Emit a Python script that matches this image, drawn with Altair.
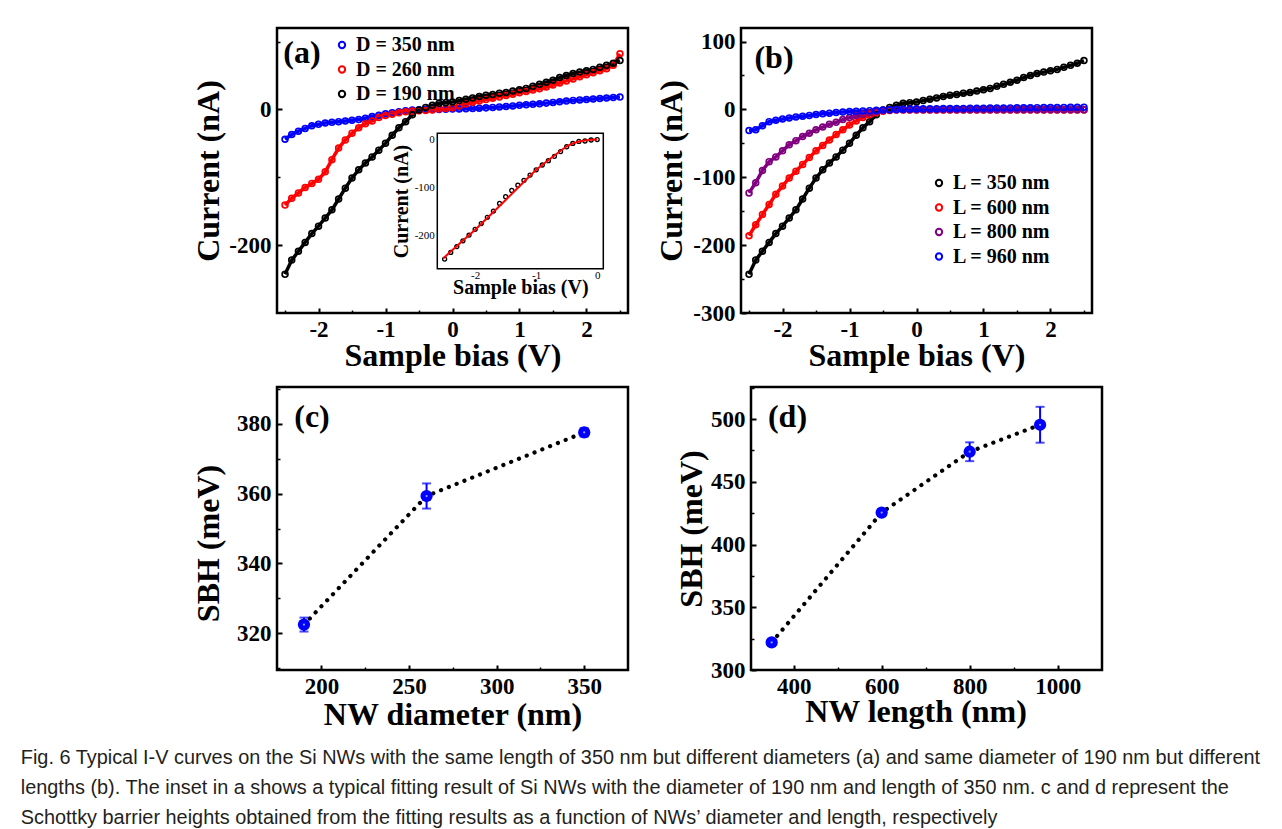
import altair as alt
import pandas as pd

FONT = "Liberation Serif"
CAP_FONT = "Liberation Sans"

# ---------------- data: panels (a) and (b) ----------------
BIAS = [-2.5, -2.4, -2.3, -2.2, -2.1, -2.0, -1.9, -1.8, -1.7, -1.6, -1.5, -1.4, -1.3,
        -1.2, -1.1, -1.0, -0.9, -0.8, -0.7, -0.6, -0.5, -0.4, -0.3, -0.2, -0.1, 0.0,
        0.1, 0.2, 0.3, 0.4, 0.5, 0.6, 0.7, 0.8, 0.9, 1.0, 1.1, 1.2, 1.3, 1.4, 1.5,
        1.6, 1.7, 1.8, 1.9, 2.0, 2.1, 2.2, 2.3, 2.4, 2.5]

I_D350 = [-44, -37, -32, -28, -24, -22, -20, -19, -18, -17, -16, -15, -13, -10.5, -8.5,
          -6.5, -5, -3.5, -2, -1, -0.5, 0, 0, 0, 0.3, 0.5, 0.7, 1, 1.3, 1.8, 2.3, 3, 3.7,
          4.4, 5.2, 6, 6.8, 7.5, 8.3, 9.3, 10.3, 11.3, 12.3, 13.3, 14, 14.7, 15.4, 16.1,
          16.8, 17.5, 18.2]
I_D260 = [-141, -131, -123, -115, -109, -103, -92, -74, -57, -45, -35, -27, -21, -17, -12,
          -9, -7, -5, -3.5, -2.5, -2, -1.5, -1, 0.5, 1.5, 2.5, 5, 8, 10.5, 12.5, 14.5, 16.5,
          18.5, 20.5, 22.5, 24.5, 26.5, 28.5, 30.5, 33, 36, 39, 42, 45, 48, 51, 54, 57, 60,
          65, 82]
I_D190 = [-243, -222, -209, -196, -183, -172, -160, -148, -132, -116, -101, -89, -79, -70,
          -60, -50, -38, -27, -18, -8, -1, 3, 6, 9, 10, 11, 13, 15, 17, 19, 21, 22, 24, 25,
          27, 29, 31, 34, 37, 40, 43, 47, 50, 53, 55, 57, 59, 62, 65, 68, 72]

I_L350 = I_D190  # same nanowire: D = 190 nm, L = 350 nm
I_L600 = [-186, -170, -155, -140, -125, -113, -101, -91, -81, -71, -61, -53, -45, -37, -30,
          -23, -17, -12, -8, -5, -2.5, -1.5, -1, -1, -1, -1, -1, -1, -1, -1, -1, -1, -1, -1,
          -1, -1, -1, -1, -1, -1, -1, -1, -1, -1, -1, -1, -1, -1, -1, -1, -1]
I_L800 = [-123, -108, -90, -77, -70, -61, -52, -46, -40, -35, -30, -26, -22, -19, -15, -12,
          -9, -7, -5, -3, -1.5, -1, -0.5, -0.5, -0.5, -0.5, -0.5, -0.5, -0.5, -0.5, -0.5,
          -0.5, -0.5, -0.5, -0.5, -0.5, -0.5, -0.5, -0.5, -0.5, -0.5, -0.5, -0.5, -0.5,
          -0.5, -0.5, -0.5, -0.5, -0.5, -0.5, -0.5]
I_L960 = [-31, -30, -24, -18, -16, -14, -12.5, -11, -10, -8.8, -7.5, -6.5, -5.5, -4.5, -3.8,
          -3.2, -2.6, -2.2, -1.8, -1.4, -1, -0.6, -0.2, 0.2, 0.5, 0.8, 0.9, 1.0, 1.1, 1.2,
          1.3, 1.4, 1.5, 1.6, 1.7, 1.8, 1.9, 2.0, 2.1, 2.2, 2.3, 2.4, 2.5, 2.6, 2.7, 2.8,
          2.9, 3.0, 3.1, 3.2, 3.3]

D_LABELS = ["D = 350 nm", "D = 260 nm", "D = 190 nm"]
D_COLORS = ["#0000ff", "#ff0000", "#000000"]
L_LABELS = ["L = 350 nm", "L = 600 nm", "L = 800 nm", "L = 960 nm"]
L_COLORS = ["#000000", "#ff0000", "#800080", "#0000ff"]

# inset of (a): data and fit
INSET_BIAS = [-2.5, -2.4, -2.3, -2.2, -2.1, -2.0, -1.9, -1.8, -1.7, -1.6, -1.5, -1.4, -1.3,
              -1.2, -1.1, -1.0, -0.9, -0.8, -0.7, -0.6, -0.5, -0.4, -0.3, -0.2, -0.1, 0.0]
INSET_I = [-250, -236, -224, -212, -200, -188, -176, -163, -150, -134, -120, -107, -96, -86,
           -75, -64, -54, -45, -36, -26, -16, -9, -5, -4, -2, -1]
FIT_BIAS = [-2.52, -2.25, -2.0, -1.75, -1.5, -1.25, -1.0, -0.75, -0.5, -0.4, -0.3, -0.2, -0.1, 0.0]
FIT_I = [-248, -217, -189, -158, -127, -95, -64, -39, -15, -9, -5, -3, -1.5, -1]
INSET_XDOM = [-2.62, 0.1]
INSET_YDOM = [-270, 12]

# ---------------- data: panels (c) and (d) ----------------
DIAM = [190, 260, 350]
SBH_DIAM = [322.5, 359.3, 377.5]
ERR_DIAM = [2.0, 3.6, 1.2]
LENGTH = [350, 600, 800, 960]
SBH_LEN = [322.0, 425.5, 474.0, 495.5]
ERR_LEN = [2.0, 2.5, 7.5, 14.3]

# minor tick positions
MINOR_BIAS = [-2.5, -1.5, -0.5, 0.5, 1.5, 2.5]
MINOR_I_A = [-100, 100]
MINOR_I_B = [-250, -150, -50, 50]
MINOR_DIAM = [225, 275, 325]
MINOR_SBH_C = [310, 330, 350, 370, 390]
MINOR_LEN = [500, 700, 900]
MINOR_SBH_D = [325, 375, 425, 475, 525]

CAPTION = [
    "Fig. 6 Typical I-V curves on the Si NWs with the same length of 350 nm but different diameters (a) and same diameter of 190 nm but different",
    "lengths (b). The inset in a shows a typical fitting result of Si NWs with the diameter of 190 nm and length of 350 nm. c and d represent the",
    "Schottky barrier heights obtained from the fitting results as a function of NWs\u2019 diameter and length, respectively",
]


def long_df(labels, series):
    rows = []
    for lab, ys in zip(labels, series):
        for v, c in zip(BIAS, ys):
            rows.append({"series": lab, "bias": v, "current": c})
    return pd.DataFrame(rows)


df_a = long_df(D_LABELS, [I_D350, I_D260, I_D190])
df_b = long_df(L_LABELS, [I_L350, I_L600, I_L800, I_L960])
df_in = pd.DataFrame({"bias": INSET_BIAS, "current": INSET_I})
df_fit = pd.DataFrame({"bias": FIT_BIAS, "current": FIT_I})
df_frame = pd.DataFrame({"x0": [INSET_XDOM[0]], "x1": [INSET_XDOM[1]],
                         "y0": [INSET_YDOM[0]], "y1": [INSET_YDOM[1]]})
df_c = pd.DataFrame({"x": DIAM, "y": SBH_DIAM, "err": ERR_DIAM})
df_d = pd.DataFrame({"x": LENGTH, "y": SBH_LEN, "err": ERR_LEN})
for d in (df_c, df_d):
    d["lo"] = d["y"] - d["err"]
    d["hi"] = d["y"] + d["err"]
ONE = pd.DataFrame({"k": [0]})

COMMON = dict(domain=False, grid=False, tickColor="black", tickWidth=2,
              labelFont=FONT, labelFontWeight="bold", labelFontSize=23, labelColor="black",
              titleFont=FONT, titleFontWeight="bold", titleFontSize=32, titleColor="black",
              labelExpr="'' + datum.value", labelFlush=False, labelOverlap=False,
              labelBound=False)


def xaxis(values, title, tpad, **kw):
    return alt.Axis(orient="bottom", values=values, title=title, offset=-5, tickSize=5,
                    labelPadding=5, titlePadding=tpad, **COMMON, **kw)


def yaxis(values, title, tx, **kw):
    return alt.Axis(orient="left", values=values, title=title, offset=-5, tickSize=5,
                    labelPadding=6, titleX=tx, **COMMON, **kw)


def minor_axis(orient, values):
    return alt.Axis(orient=orient, values=values, labels=False, title=None, offset=-3,
                    tickSize=3, tickWidth=1.5, tickColor="black", domain=False, grid=False)


def minor_layer(df, xf, yf, xdom, ydom, xminor, yminor):
    xs = alt.Scale(domain=xdom, nice=False, zero=False)
    ys = alt.Scale(domain=ydom, nice=False, zero=False)
    return alt.Chart(df).mark_point(opacity=0, size=1).encode(
        x=alt.X(f"{xf}:Q", scale=xs, axis=minor_axis("bottom", xminor)),
        y=alt.Y(f"{yf}:Q", scale=ys, axis=minor_axis("left", yminor)))


def legend(lx, ly):
    return alt.Legend(orient="none", legendX=lx, legendY=ly, title=None,
                      labelFont=FONT, labelFontSize=20, labelFontWeight="bold",
                      labelColor="black", symbolType="circle", symbolSize=40,
                      symbolStrokeWidth=2, labelOffset=4, rowPadding=4.5,
                      labelLimit=300)


def panel_label(text, px, py):
    return alt.Chart(ONE).mark_text(text=text, font=FONT, fontSize=32, fontWeight="bold",
                                    color="black", align="center", baseline="middle").encode(
        x=alt.value(px), y=alt.value(py))


def iv_layers(df, labels, colors, xs, ys, xa, ya, leg):
    col = alt.Color("series:N", scale=alt.Scale(domain=labels, range=colors), legend=leg)
    band = alt.Chart(df).mark_line(strokeWidth=3.5, opacity=1).encode(
        x=alt.X("bias:Q", scale=xs, axis=xa), y=alt.Y("current:Q", scale=ys, axis=ya),
        color=col, detail="series:N")
    pts = alt.Chart(df).mark_point(filled=False, size=34, strokeWidth=1.7, opacity=1).encode(
        x=alt.X("bias:Q", scale=xs, axis=xa), y=alt.Y("current:Q", scale=ys, axis=ya),
        color=col)
    return band, pts


IV_XDOM = [-2.62, 2.62]
IV_YDOM = [-300, 120]

# ---------------- panel (a) ----------------
xs_a = alt.Scale(domain=IV_XDOM, nice=False, zero=False)
ys_a = alt.Scale(domain=IV_YDOM, nice=False, zero=False)
band_a, pts_a = iv_layers(df_a, D_LABELS, D_COLORS, xs_a, ys_a,
                          xaxis([-2, -1, 0, 1, 2], "Sample bias (V)", -1),
                          yaxis([-200, 0], "Current (nA)", -57), legend(55, 7))
main_a = alt.layer(band_a, pts_a, panel_label("(a)", 25, 25))

ins_xs = alt.Scale(domain=INSET_XDOM, range=[160.3, 326.3], nice=False, zero=False)
ins_ys = alt.Scale(domain=INSET_YDOM, range=[240.7, 105.3], nice=False, zero=False)
INS_COMMON = dict(domain=False, grid=False, tickColor="black", tickWidth=1.2, tickSize=3,
                  labelFont=FONT, labelFontWeight="normal", labelFontSize=11,
                  labelColor="black", titleFont=FONT, titleFontWeight="bold",
                  titleFontSize=20, titleColor="black", labelExpr="'' + datum.value",
                  labelFlush=False, labelOverlap=False, labelBound=False)
ins_xaxis = alt.Axis(orient="bottom", values=[-2, -1, 0], title="Sample bias (V)",
                     offset=-47.3, labelPadding=1, titlePadding=-3, **INS_COMMON)
ins_yaxis = alt.Axis(orient="left", values=[0, -100, -200], title="Current (nA)",
                     offset=-163.3, labelPadding=3, titleX=-29, **INS_COMMON)
ins_frame = alt.Chart(df_frame).mark_rect(fill="white", stroke="black", strokeWidth=1.5).encode(
    x=alt.X("x0:Q", scale=ins_xs, axis=ins_xaxis), x2="x1:Q",
    y=alt.Y("y0:Q", scale=ins_ys, axis=ins_yaxis), y2="y1:Q")
ins_pts = alt.Chart(df_in).mark_point(filled=False, color="black", size=16, strokeWidth=1.3,
                                      opacity=1).encode(
    x=alt.X("bias:Q", scale=ins_xs, axis=ins_xaxis),
    y=alt.Y("current:Q", scale=ins_ys, axis=ins_yaxis))
ins_fit = alt.Chart(df_fit).mark_line(color="#ff0000", strokeWidth=2).encode(
    x=alt.X("bias:Q", scale=ins_xs, axis=ins_xaxis),
    y=alt.Y("current:Q", scale=ins_ys, axis=ins_yaxis))
inset = alt.layer(ins_frame, ins_pts, ins_fit)

minor_a = minor_layer(df_a, "bias", "current", IV_XDOM, IV_YDOM, MINOR_BIAS, MINOR_I_A)
panel_a = alt.layer(main_a, minor_a, inset).resolve_scale(
    x="independent", y="independent").properties(width=351, height=285)

# ---------------- panel (b) ----------------
xs_b = alt.Scale(domain=IV_XDOM, nice=False, zero=False)
ys_b = alt.Scale(domain=IV_YDOM, nice=False, zero=False)
band_b, pts_b = iv_layers(df_b, L_LABELS, L_COLORS, xs_b, ys_b,
                          xaxis([-2, -1, 0, 1, 2], "Sample bias (V)", -1),
                          yaxis([-300, -200, -100, 0, 100], "Current (nA)", -58),
                          legend(188, 145))
main_b = alt.layer(band_b, pts_b, panel_label("(b)", 33, 29.5))
minor_b = minor_layer(df_b, "bias", "current", IV_XDOM, IV_YDOM, MINOR_BIAS, MINOR_I_B)
panel_b = alt.layer(main_b, minor_b).resolve_scale(
    x="independent", y="independent").properties(width=351, height=285)


# ---------------- panels (c) and (d) ----------------
def sbh_panel(df, xdom, ydom, xvals, yvals, xminor, yminor, xtitle, xkw, ykw, label, lpos,
              tpad, ytx):
    xs = alt.Scale(domain=xdom, nice=False, zero=False)
    ys = alt.Scale(domain=ydom, nice=False, zero=False)
    xa = xaxis(xvals, xtitle, tpad, **xkw)
    ya = yaxis(yvals, "SBH (meV)", ytx, **ykw)
    base = alt.Chart(df)
    line = base.mark_line(color="black", strokeWidth=4.2, strokeDash=[0.1, 8.3],
                          strokeCap="round").encode(
        x=alt.X("x:Q", scale=xs, axis=xa), y=alt.Y("y:Q", scale=ys, axis=ya))
    rule = base.mark_rule(color="#0000ff", strokeWidth=2).encode(
        x=alt.X("x:Q", scale=xs, axis=xa), y=alt.Y("lo:Q", scale=ys, axis=ya), y2="hi:Q")
    cap_lo = base.mark_tick(color="#0000ff", orient="horizontal", size=9, thickness=2).encode(
        x=alt.X("x:Q", scale=xs, axis=xa), y=alt.Y("lo:Q", scale=ys, axis=ya))
    cap_hi = base.mark_tick(color="#0000ff", orient="horizontal", size=9, thickness=2).encode(
        x=alt.X("x:Q", scale=xs, axis=xa), y=alt.Y("hi:Q", scale=ys, axis=ya))
    pts = base.mark_point(filled=True, color="#0000ff", size=150, opacity=1).encode(
        x=alt.X("x:Q", scale=xs, axis=xa), y=alt.Y("y:Q", scale=ys, axis=ya))
    hl = base.mark_point(filled=True, color="#9a9aff", size=5, opacity=1).encode(
        x=alt.X("x:Q", scale=xs, axis=xa), y=alt.Y("y:Q", scale=ys, axis=ya))
    main = alt.layer(line, rule, cap_lo, cap_hi, pts, hl, panel_label(label, lpos[0], lpos[1]))
    minor = minor_layer(df, "x", "y", xdom, ydom, xminor, yminor)
    return alt.layer(main, minor).resolve_scale(
        x="independent", y="independent").properties(width=351, height=283)


panel_c = sbh_panel(df_c, [174.6, 375], [309.5, 390.5], [200, 250, 300, 350], [320, 340, 360, 380],
                    MINOR_DIAM, MINOR_SBH_C, "NW diameter (nm)", {}, {"titleY": 156}, "(c)",
                    (35, 30), 1, -57)
panel_d = sbh_panel(df_d, [303, 1100.7], [300, 525.6], [400, 600, 800, 1000],
                    [300, 350, 400, 450, 500], MINOR_LEN, MINOR_SBH_D, "NW length (nm)",
                    {"titleX": 164.5}, {}, "(d)", (36.5, 29.5), -2, -48)

row0 = alt.hconcat(panel_a, panel_b, spacing=23).resolve_scale(color="independent")
row1 = alt.hconcat(panel_c, panel_d, spacing=43)

chart = alt.vconcat(row0, row1, spacing=12).resolve_scale(color="independent").properties(
    title=alt.TitleParams(text=CAPTION, orient="bottom", anchor="start", dx=-170, offset=17,
                          font=CAP_FONT, fontSize=19.9, fontWeight="normal", color="#231f20",
                          lineHeight=30, baseline="top"),
    padding={"left": 12, "top": 18, "right": 2, "bottom": 0},
    background="white",
).configure_view(stroke="black", strokeWidth=2.5).configure_legend(
    padding=0
)

chart.save("out.html", embed_options={"renderer": "svg", "actions": False})
